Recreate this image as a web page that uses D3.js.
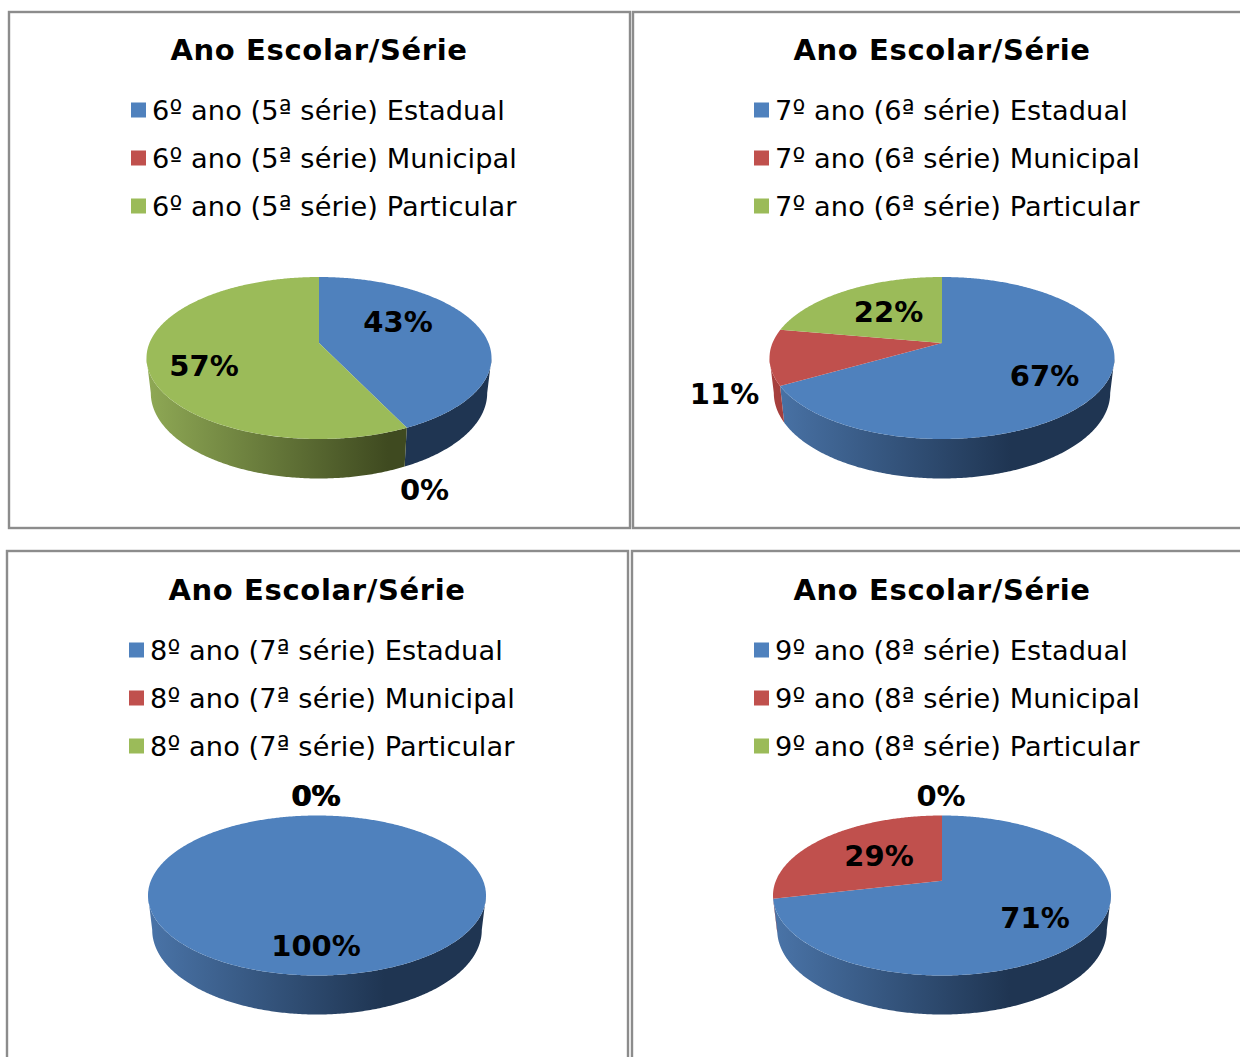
<!DOCTYPE html>
<html><head><meta charset="utf-8">
<script src="https://cdn.jsdelivr.net/npm/d3@7"></script>
<style>html,body{margin:0;padding:0;background:#fff;overflow:hidden}svg{display:block}text{font-family:"DejaVu Sans",Verdana,sans-serif;fill:#000}</style>
</head><body><svg id="c" width="1240" height="1057"></svg>
<script>
const titleText = "Ano Escolar/Série";
const years = ["6º ano (5ª série)", "7º ano (6ª série)", "8º ano (7ª série)", "9º ano (8ª série)"];
const schools = ["Estadual", "Municipal", "Particular"];
const values6 = [42.9, 0, 57.1];
const values7 = [66.7, 11.1, 22.2];
const values8 = [100, 0, 0];
const values9 = [71.4, 28.6, 0];
const allValues = [values6, values7, values8, values9];
const colors = ["#4f81bd", "#c0504d", "#9bbb59"];
const wallLeft = ["#4a74a8", "#a8403e", "#8fa955"];
const wallRight = ["#1f3552", "#5e2423", "#3f4a20"];

const panels = [
 {x0:9,y0:12,x1:630,y1:528,cx:319,titleX:319,titleY:60,legX:131,legY:110,ecy:358,rx:172.5,ry:81,depth:39.5,
  labels:[[398,322.5],[424.5,490.5],[204,366.5]]},
 {x0:633,y0:12,x1:1300,y1:528,cx:942,titleX:942,titleY:60,legX:754,legY:110,ecy:358,rx:172.5,ry:81,depth:39.5,
  labels:[[1044.5,376.5],[724.5,394.5],[888.5,312.5]]},
 {x0:7,y0:551,x1:628,y1:1100,cx:317,titleX:317,titleY:600,legX:129,legY:650,ecy:895.5,rx:169,ry:80,depth:39,
  labels:[[316,946.5],[315.5,796.5],[316.5,796.5]]},
 {x0:632,y0:551,x1:1300,y1:1100,cx:942,titleX:942,titleY:600,legX:754,legY:650,ecy:895.5,rx:169,ry:80,depth:39,
  labels:[[1035,918.5],[879,856.5],[941,796.5]]}
];
const c = 0.185;
const svg = d3.select("#c");
const defs = svg.append("defs");
const pie = d3.pie().sort(null).value(d=>d).startAngle(0).endAngle(2*Math.PI);

function project(t, p, bottom){
  const u = Math.sin(t), v = -Math.cos(t), w = 1 - c*v;
  const rx = bottom ? p.rx*0.975 : p.rx, ry = bottom ? p.ry*1.055 : p.ry;
  const cy = bottom ? p.ecy + p.depth + p.ry - ry : p.ecy;
  return [p.cx + rx*Math.sqrt(1-c*c)*u/w, cy + ry*(v-c)/w];
}
function samples(a0,a1){const n=Math.max(2,Math.ceil((a1-a0)/0.01));return d3.range(n+1).map(i=>a0+(a1-a0)*i/n);}
const line = d3.line();
const visStart = Math.acos(-c), visEnd = 2*Math.PI - Math.acos(-c);

panels.forEach((p,pi)=>{
  const g = svg.append("g");
  g.append("rect").attr("x",p.x0).attr("y",p.y0).attr("width",p.x1-p.x0).attr("height",p.y1-p.y0)
    .attr("fill","#fff").attr("stroke","#8c8c8c").attr("stroke-width",2.4);
  g.append("text").attr("x",p.titleX).attr("y",p.titleY).attr("text-anchor","middle")
    .attr("font-size",29).attr("letter-spacing",0.65).attr("font-weight","bold").text(titleText);
  schools.forEach((s,i)=>{
    const y = p.legY + i*48;
    g.append("rect").attr("x",p.legX).attr("y",y-7.5).attr("width",15).attr("height",15).attr("fill",colors[i]);
    g.append("text").attr("x",p.legX+21).attr("y",y+10).attr("font-size",27.2).attr("letter-spacing",0.1).text(years[pi]+" "+s);
  });
  const arcs = pie(allValues[pi]);
  arcs.forEach((a,i)=>{
    const id=`w${pi}_${i}`;
    const gr=defs.append("linearGradient").attr("id",id).attr("gradientUnits","userSpaceOnUse")
      .attr("x1",p.cx-p.rx).attr("x2",p.cx+p.rx*0.4).attr("y1",0).attr("y2",0);
    gr.append("stop").attr("offset",0).attr("stop-color",wallLeft[i]);
    gr.append("stop").attr("offset",1).attr("stop-color",wallRight[i]);
    const a0=Math.max(a.startAngle,visStart), a1=Math.min(a.endAngle,visEnd);
    if(a1>a0){
      const ts=samples(a0,a1);
      const pts=ts.map(t=>project(t,p,false)).concat(ts.slice().reverse().map(t=>project(t,p,true)));
      g.append("path").attr("d",line(pts)+"Z").attr("fill",`url(#${id})`);
    }
  });
  arcs.forEach((a,i)=>{
    if(a.endAngle-a.startAngle<=0) return;
    const pts=samples(a.startAngle,a.endAngle).map(t=>project(t,p,false));
    const full=a.endAngle-a.startAngle>=2*Math.PI-1e-6;
    if(!full) pts.unshift([p.cx,p.ecy-c*p.ry]);
    g.append("path").attr("d",line(pts)+"Z").attr("fill",colors[i]);
  });
  arcs.forEach((a,i)=>{
    g.append("text").attr("x",p.labels[i][0]).attr("y",p.labels[i][1]+9.5).attr("text-anchor","middle")
      .attr("font-size",29).attr("font-weight","bold").text(d3.format(".0f")(allValues[pi][i])+"%");
  });
});
</script></body></html>
